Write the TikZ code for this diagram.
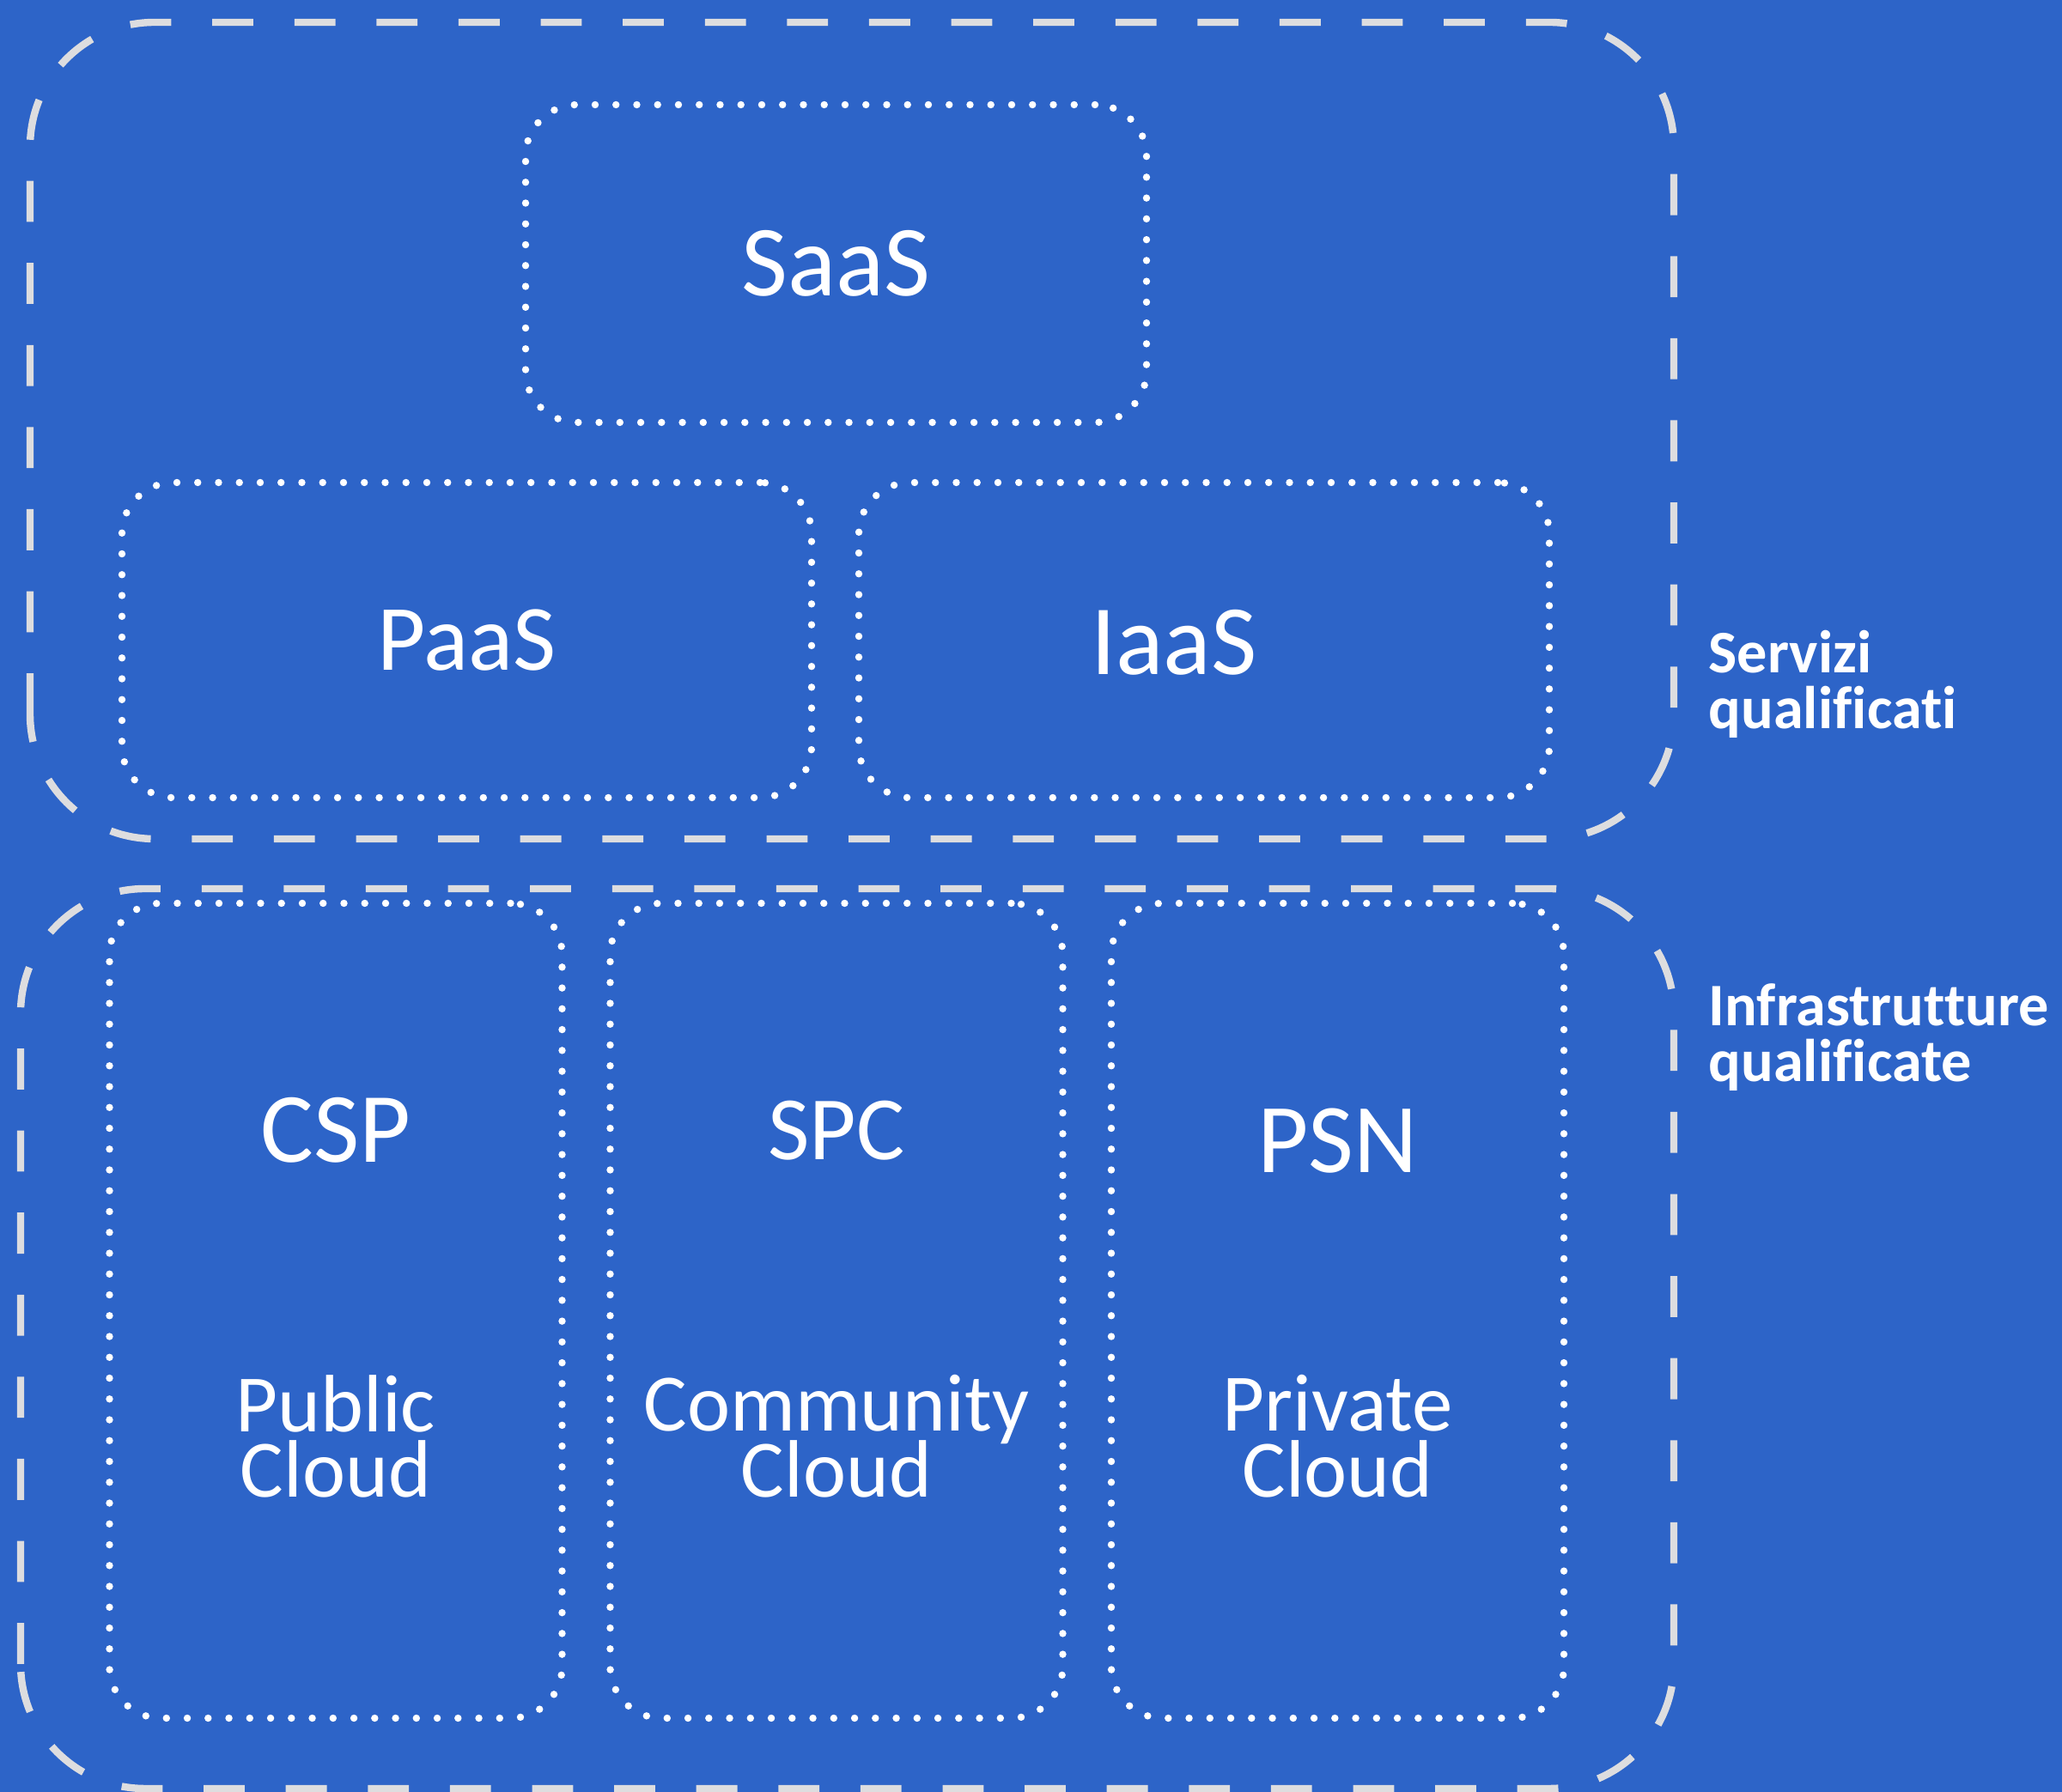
\documentclass[tikz,border=0pt]{standalone}
\usepackage{fontspec}
\setmainfont{Carlito}[Ligatures=NoCommon]
\setlength{\lineskiplimit}{-20pt}

\definecolor{bgblue}{RGB}{45,100,200}
\definecolor{dashgray}{RGB}{221,221,223}

\tikzset{
  group/.style={draw=dashgray, line width=2.4pt, dash pattern=on 13.6pt off 13.6pt, rounded corners=1.45cm},
  layer/.style={draw=white, line width=2.4pt, line cap=round, dash pattern=on 0pt off 6.9pt,
    rounded corners=0.6cm, inner sep=0pt, text=white},
  bigtext/.style={text=white, inner sep=0pt, font=\fontsize{#1}{37}\selectfont},
  bigtext/.default=31,
  cloudtext/.style={text=white, inner sep=0pt, align=center, font=\fontsize{27}{21.8}\selectfont},
  sidetext/.style={text=white, inner sep=0pt, anchor=west, align=left, font=\bfseries\fontsize{20}{18.7}\selectfont},
}

\begin{document}
\begin{tikzpicture}
    % Background
    \fill[bgblue] (0,0) rectangle (24.01,20.87);
    \useasboundingbox (0,0) rectangle (24.01,20.87);

    % Dashed groups
    \draw[group] (0.35,11.10) rectangle (19.49,20.61);
    \draw[group] (0.24,0.04) rectangle (19.49,10.52);

    % Service models
    \node[layer, bigtext=33.4, minimum width=7.23cm, minimum height=3.70cm] (saas) at (9.735,17.80) {SaaS};
    \node[layer, bigtext=31, minimum width=8.03cm, minimum height=3.67cm] (paas) at (5.435,13.415) {PaaS};
    \node[layer, minimum width=8.04cm, minimum height=3.67cm] (iaas) at (14.02,13.415) {};
    \node[bigtext=33] (iaaslabel) at ([xshift=-0.35cm,yshift=-0.03cm]iaas.center) {IaaS};

    % Infrastructures
    \foreach \name/\x/\dy/\size/\abbr/\kind in {csp/3.91/2.10/33/CSP/Public, spc/9.74/2.10/30/SPC/Community, psn/15.575/1.98/32.7/PSN/Private} {
        \node[layer, minimum width=5.27cm, minimum height=9.49cm] (\name) at (\x,5.605) {};
        \node[bigtext=\size] (\name abbr) at ([yshift=\dy cm]\name.center) {\abbr};
        \node[cloudtext] (\name kind) at ([yshift=-1.465cm]\name.center) {\kind\\Cloud};
    }

    % Side labels
    \node[sidetext] (servizi) at (19.89,12.90) {Servizi\\qualificati};
    \node[sidetext] (infra) at (19.89,8.79) {Infrastrutture\\qualificate};
\end{tikzpicture}
\end{document}
